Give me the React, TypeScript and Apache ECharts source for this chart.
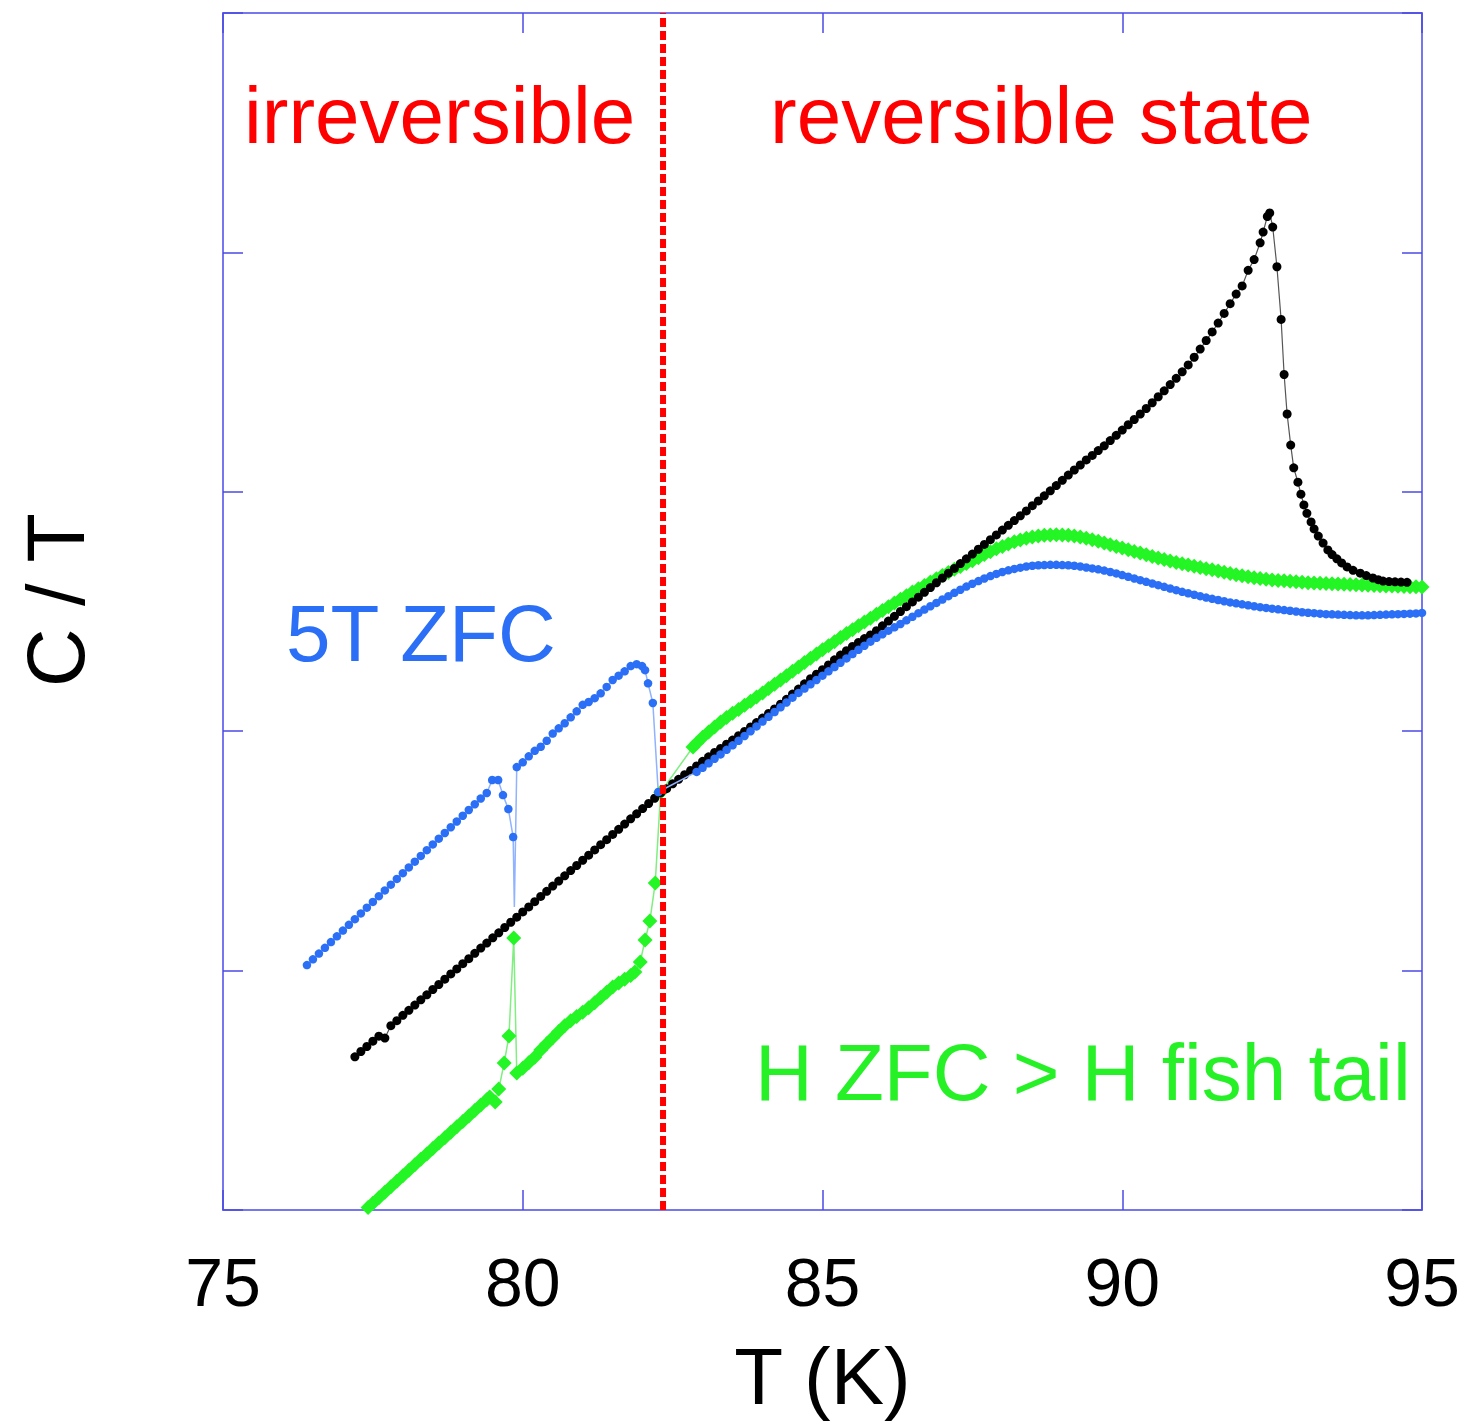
import React, { useEffect, useRef } from "react";
import * as echarts from "echarts";

// ---- data (T in K, C/T in arbitrary units) ----
const xTicks = [75, 80, 85, 90, 95];
const yRange = [0, 5];
const boundaryT = 82.34;

const zeroField: [number, number][] = [
  [77.2, 0.64], [77.3, 0.662], [77.4, 0.683], [77.5, 0.705], [77.6, 0.726], [77.7, 0.718],
  [77.8, 0.77], [77.9, 0.791], [78.0, 0.813], [78.1, 0.834], [78.2, 0.856], [78.3, 0.878],
  [78.4, 0.899], [78.5, 0.921], [78.6, 0.942], [78.7, 0.964], [78.8, 0.986], [78.9, 1.007],
  [79.0, 1.029], [79.1, 1.05], [79.2, 1.072], [79.3, 1.094], [79.4, 1.115], [79.5, 1.137],
  [79.6, 1.158], [79.7, 1.18], [79.8, 1.202], [79.9, 1.223], [80.0, 1.245], [80.1, 1.266],
  [80.2, 1.288], [80.3, 1.31], [80.4, 1.331], [80.5, 1.353], [80.6, 1.374], [80.7, 1.396],
  [80.8, 1.418], [80.9, 1.439], [81.0, 1.461], [81.1, 1.482], [81.2, 1.504], [81.3, 1.526],
  [81.4, 1.547], [81.5, 1.569], [81.6, 1.59], [81.7, 1.612], [81.8, 1.634], [81.9, 1.655],
  [82.0, 1.677], [82.1, 1.698], [82.2, 1.72], [82.3, 1.742], [82.4, 1.76], [82.5, 1.78],
  [82.6, 1.799], [82.7, 1.818], [82.8, 1.836], [82.9, 1.855], [83.0, 1.874], [83.1, 1.893],
  [83.2, 1.911], [83.3, 1.928], [83.4, 1.946], [83.5, 1.963], [83.6, 1.981], [83.7, 1.999],
  [83.8, 2.018], [83.9, 2.036], [84.0, 2.055], [84.1, 2.074], [84.2, 2.093], [84.3, 2.113],
  [84.4, 2.133], [84.5, 2.155], [84.6, 2.176], [84.7, 2.198], [84.8, 2.219], [84.9, 2.238],
  [85.0, 2.257], [85.1, 2.277], [85.2, 2.298], [85.3, 2.318], [85.4, 2.336], [85.5, 2.354],
  [85.6, 2.371], [85.7, 2.387], [85.8, 2.402], [85.9, 2.42], [86.0, 2.44], [86.1, 2.46],
  [86.2, 2.48], [86.3, 2.5], [86.4, 2.52], [86.5, 2.54], [86.6, 2.56], [86.7, 2.58],
  [86.8, 2.6], [86.9, 2.62], [87.0, 2.64], [87.1, 2.66], [87.2, 2.68], [87.3, 2.7],
  [87.4, 2.72], [87.5, 2.74], [87.6, 2.76], [87.7, 2.78], [87.8, 2.8], [87.9, 2.82],
  [88.0, 2.84], [88.1, 2.86], [88.2, 2.88], [88.3, 2.9], [88.4, 2.92], [88.5, 2.942],
  [88.6, 2.962], [88.7, 2.983], [88.8, 3.004], [88.9, 3.026], [89.0, 3.048], [89.1, 3.07],
  [89.2, 3.091], [89.3, 3.112], [89.4, 3.133], [89.5, 3.152], [89.6, 3.172], [89.7, 3.192],
  [89.8, 3.214], [89.9, 3.236], [90.0, 3.258], [90.1, 3.28], [90.2, 3.302], [90.3, 3.325],
  [90.4, 3.348], [90.5, 3.372], [90.6, 3.397], [90.7, 3.422], [90.8, 3.448], [90.9, 3.474],
  [91.0, 3.501], [91.1, 3.53], [91.2, 3.562], [91.3, 3.596], [91.4, 3.632], [91.5, 3.668],
  [91.6, 3.705], [91.7, 3.745], [91.8, 3.786], [91.9, 3.826], [92.0, 3.86], [92.1, 3.925],
  [92.2, 3.97], [92.3, 4.04], [92.35, 4.085], [92.42, 4.15], [92.46, 4.165], [92.51, 4.106],
  [92.58, 3.94], [92.65, 3.72], [92.7, 3.49], [92.75, 3.325], [92.81, 3.195], [92.86, 3.1],
  [92.93, 3.04], [92.98, 2.99], [93.03, 2.945], [93.08, 2.91], [93.15, 2.874], [93.2, 2.845],
  [93.27, 2.815], [93.35, 2.786], [93.43, 2.757], [93.5, 2.738], [93.58, 2.72], [93.66, 2.703],
  [93.75, 2.686], [93.85, 2.672], [93.97, 2.66], [94.07, 2.65], [94.18, 2.64], [94.27, 2.633],
  [94.35, 2.627], [94.45, 2.625], [94.55, 2.624], [94.65, 2.623], [94.75, 2.622],
];

const zfc5T: [number, number][] = [
  [76.4, 1.023], [76.5, 1.047], [76.6, 1.071], [76.7, 1.095], [76.8, 1.119], [76.9, 1.143],
  [77.0, 1.167], [77.1, 1.191], [77.2, 1.215], [77.3, 1.239], [77.4, 1.263], [77.5, 1.287],
  [77.6, 1.311], [77.7, 1.335], [77.8, 1.359], [77.9, 1.383], [78.0, 1.407], [78.1, 1.431],
  [78.2, 1.455], [78.3, 1.479], [78.4, 1.503], [78.5, 1.527], [78.6, 1.551], [78.7, 1.575],
  [78.8, 1.599], [78.9, 1.623], [79.0, 1.647], [79.1, 1.671], [79.2, 1.695], [79.3, 1.719],
  [79.4, 1.742], [79.49, 1.796], [79.59, 1.796], [79.67, 1.733], [79.76, 1.675], [79.84, 1.558],
  [79.86, 1.266], [79.9, 1.85], [80.0, 1.87], [80.1, 1.895], [80.2, 1.918], [80.3, 1.935],
  [80.4, 1.96], [80.5, 1.99], [80.6, 2.012], [80.7, 2.033], [80.8, 2.058], [80.9, 2.083],
  [81.0, 2.11], [81.1, 2.122], [81.2, 2.138], [81.3, 2.158], [81.4, 2.185], [81.5, 2.214],
  [81.6, 2.232], [81.7, 2.25], [81.8, 2.272], [81.9, 2.28], [81.99, 2.272], [82.04, 2.255],
  [82.09, 2.2], [82.17, 2.118], [82.26, 1.746], [82.9, 1.83], [83.0, 1.847], [83.1, 1.866],
  [83.2, 1.885], [83.3, 1.903], [83.4, 1.922], [83.5, 1.941], [83.6, 1.96], [83.7, 1.98],
  [83.8, 2.0], [83.9, 2.02], [84.0, 2.04], [84.1, 2.06], [84.2, 2.08], [84.3, 2.1],
  [84.4, 2.12], [84.5, 2.14], [84.6, 2.16], [84.7, 2.178], [84.8, 2.196], [84.9, 2.214],
  [85.0, 2.232], [85.1, 2.25], [85.2, 2.268], [85.3, 2.286], [85.4, 2.304], [85.5, 2.322],
  [85.6, 2.34], [85.7, 2.357], [85.8, 2.374], [85.9, 2.39], [86.0, 2.405], [86.1, 2.42],
  [86.2, 2.434], [86.3, 2.448], [86.4, 2.463], [86.5, 2.478], [86.6, 2.493], [86.7, 2.508],
  [86.8, 2.522], [86.9, 2.536], [87.0, 2.55], [87.1, 2.564], [87.2, 2.578], [87.3, 2.591],
  [87.4, 2.604], [87.5, 2.616], [87.6, 2.627], [87.7, 2.638], [87.8, 2.648], [87.9, 2.657],
  [88.0, 2.665], [88.1, 2.672], [88.2, 2.678], [88.3, 2.683], [88.4, 2.688], [88.5, 2.691],
  [88.6, 2.693], [88.7, 2.694], [88.8, 2.695], [88.9, 2.695], [89.0, 2.694], [89.1, 2.693],
  [89.2, 2.691], [89.3, 2.688], [89.4, 2.684], [89.5, 2.68], [89.6, 2.676], [89.7, 2.671],
  [89.8, 2.665], [89.9, 2.659], [90.0, 2.652], [90.1, 2.645], [90.2, 2.638], [90.3, 2.631],
  [90.4, 2.624], [90.5, 2.617], [90.6, 2.61], [90.7, 2.603], [90.8, 2.596], [90.9, 2.589],
  [91.0, 2.582], [91.1, 2.576], [91.2, 2.57], [91.3, 2.564], [91.4, 2.558], [91.5, 2.553],
  [91.6, 2.548], [91.7, 2.543], [91.8, 2.538], [91.9, 2.534], [92.0, 2.53], [92.1, 2.526],
  [92.2, 2.522], [92.3, 2.518], [92.4, 2.515], [92.5, 2.512], [92.6, 2.509], [92.7, 2.506],
  [92.8, 2.503], [92.9, 2.5], [93.0, 2.497], [93.1, 2.495], [93.2, 2.493], [93.3, 2.491],
  [93.4, 2.489], [93.5, 2.488], [93.6, 2.487], [93.7, 2.486], [93.8, 2.485], [93.9, 2.484],
  [94.0, 2.484], [94.1, 2.484], [94.2, 2.485], [94.3, 2.486], [94.4, 2.487], [94.5, 2.488],
  [94.6, 2.489], [94.7, 2.49], [94.8, 2.491], [94.9, 2.492], [95.0, 2.494],
];
// the 5T ZFC point whose marker is hidden behind the black curve
const zfc5THiddenT = 79.86;

const fishTail: [number, number][] = [
  [77.42, 0.01], [77.5, 0.028], [77.6, 0.051], [77.7, 0.074], [77.8, 0.097], [77.9, 0.12],
  [78.0, 0.143], [78.1, 0.166], [78.2, 0.189], [78.3, 0.212], [78.4, 0.234], [78.5, 0.257],
  [78.6, 0.28], [78.7, 0.302], [78.8, 0.325], [78.9, 0.348], [79.0, 0.37], [79.1, 0.393],
  [79.2, 0.416], [79.3, 0.439], [79.4, 0.461], [79.45, 0.472], [79.54, 0.451], [79.6, 0.505],
  [79.69, 0.614], [79.77, 0.727], [79.85, 1.136], [79.9, 0.572], [80.0, 0.592], [80.1, 0.615],
  [80.2, 0.638], [80.3, 0.668], [80.4, 0.694], [80.5, 0.72], [80.6, 0.746], [80.7, 0.77],
  [80.8, 0.79], [80.9, 0.808], [81.0, 0.826], [81.1, 0.845], [81.2, 0.866], [81.3, 0.888],
  [81.4, 0.91], [81.5, 0.931], [81.6, 0.948], [81.7, 0.964], [81.8, 0.98], [81.87, 0.994],
  [81.96, 1.036], [82.04, 1.128], [82.12, 1.207], [82.21, 1.366], [82.3, 1.745], [82.84, 1.934],
  [82.9, 1.95], [83.0, 1.975], [83.1, 1.997], [83.2, 2.018], [83.3, 2.038], [83.4, 2.057],
  [83.5, 2.075], [83.6, 2.091], [83.7, 2.108], [83.8, 2.125], [83.9, 2.143], [84.0, 2.16],
  [84.1, 2.178], [84.2, 2.196], [84.3, 2.214], [84.4, 2.232], [84.5, 2.25], [84.6, 2.268],
  [84.7, 2.287], [84.8, 2.305], [84.9, 2.322], [85.0, 2.34], [85.1, 2.357], [85.2, 2.374],
  [85.3, 2.391], [85.4, 2.408], [85.5, 2.424], [85.6, 2.44], [85.7, 2.456], [85.8, 2.472],
  [85.9, 2.488], [86.0, 2.504], [86.1, 2.52], [86.2, 2.536], [86.3, 2.551], [86.4, 2.566],
  [86.5, 2.581], [86.6, 2.595], [86.7, 2.609], [86.8, 2.623], [86.9, 2.637], [87.0, 2.65],
  [87.1, 2.663], [87.2, 2.676], [87.3, 2.688], [87.4, 2.7], [87.5, 2.712], [87.6, 2.725],
  [87.7, 2.738], [87.8, 2.75], [87.9, 2.762], [88.0, 2.772], [88.1, 2.782], [88.2, 2.791],
  [88.3, 2.799], [88.4, 2.806], [88.5, 2.811], [88.6, 2.815], [88.7, 2.818], [88.8, 2.82],
  [88.9, 2.821], [89.0, 2.82], [89.1, 2.818], [89.2, 2.815], [89.3, 2.811], [89.4, 2.806],
  [89.5, 2.8], [89.6, 2.793], [89.7, 2.786], [89.8, 2.779], [89.9, 2.772], [90.0, 2.765],
  [90.1, 2.758], [90.2, 2.751], [90.3, 2.744], [90.4, 2.737], [90.5, 2.73], [90.6, 2.723],
  [90.7, 2.717], [90.8, 2.711], [90.9, 2.705], [91.0, 2.699], [91.1, 2.694], [91.2, 2.689],
  [91.3, 2.684], [91.4, 2.679], [91.5, 2.674], [91.6, 2.669], [91.7, 2.664], [91.8, 2.659],
  [91.9, 2.654], [92.0, 2.649], [92.1, 2.645], [92.2, 2.641], [92.3, 2.638], [92.4, 2.635],
  [92.5, 2.632], [92.6, 2.63], [92.7, 2.628], [92.8, 2.626], [92.9, 2.624], [93.0, 2.622],
  [93.1, 2.62], [93.2, 2.619], [93.3, 2.618], [93.4, 2.617], [93.5, 2.616], [93.6, 2.615],
  [93.7, 2.614], [93.8, 2.613], [93.9, 2.612], [94.0, 2.611], [94.1, 2.61], [94.2, 2.609],
  [94.3, 2.608], [94.4, 2.607], [94.5, 2.606], [94.6, 2.605], [94.7, 2.604], [94.8, 2.603],
  [94.9, 2.603], [95.0, 2.602],
];

const FONT = "'Liberation Sans', Arial, Helvetica, sans-serif";
const AXIS_COLOR = "#7676ee";
const TICK_COLOR = "#4a4ae4";

export default function App() {
  const ref = useRef<HTMLDivElement>(null);

  useEffect(() => {
    if (!ref.current) return;
    const chart = echarts.init(ref.current, undefined, { renderer: "svg" });

    const axisCommon = {
      axisLine: { show: true, onZero: false, lineStyle: { color: AXIS_COLOR, width: 2 } },
      axisTick: { show: true, inside: true, length: 20, lineStyle: { color: TICK_COLOR, width: 1.5 } },
      splitLine: { show: false },
    };

    const blueData = zfc5T.map((p) =>
      p[0] === zfc5THiddenT ? { value: p, symbol: "none" } : { value: p }
    );

    chart.setOption({
      animation: false,
      backgroundColor: "#ffffff",
      grid: { left: 223, right: 45, top: 13, bottom: 212 },
      xAxis: [
        {
          type: "value",
          position: "bottom",
          min: xTicks[0],
          max: xTicks[xTicks.length - 1],
          interval: xTicks[1] - xTicks[0],
          ...axisCommon,
          axisLabel: {
            show: true,
            fontSize: 68,
            color: "#000",
            fontFamily: FONT,
            margin: 38,
            showMinLabel: true,
            showMaxLabel: true,
          },
          name: "T (K)",
          nameLocation: "middle",
          nameGap: 126,
          nameTextStyle: { fontSize: 80, color: "#000", fontFamily: FONT },
        },
        {
          type: "value",
          position: "top",
          min: xTicks[0],
          max: xTicks[xTicks.length - 1],
          interval: xTicks[1] - xTicks[0],
          ...axisCommon,
          axisLabel: { show: false },
        },
      ],
      yAxis: [
        {
          type: "value",
          position: "left",
          min: yRange[0],
          max: yRange[1],
          interval: 1,
          ...axisCommon,
          axisLabel: { show: false },
        },
        {
          type: "value",
          position: "right",
          min: yRange[0],
          max: yRange[1],
          interval: 1,
          ...axisCommon,
          axisLabel: { show: false },
        },
      ],
      graphic: [
        {
          type: "text",
          x: 56,
          y: 600,
          rotation: Math.PI / 2,
          style: {
            text: "C / T",
            fontSize: 81,
            fontFamily: FONT,
            fill: "#000",
            align: "center",
            verticalAlign: "middle",
          },
        },
        {
          type: "text",
          x: 244,
          y: 115,
          z: 100,
          style: {
            text: "irreversible",
            fontSize: 80,
            fontFamily: FONT,
            fill: "#ff0000",
            align: "left",
            verticalAlign: "middle",
          },
        },
        {
          type: "text",
          x: 770,
          y: 115,
          z: 100,
          style: {
            text: "reversible state",
            fontSize: 80,
            fontFamily: FONT,
            fill: "#ff0000",
            align: "left",
            verticalAlign: "middle",
          },
        },
        {
          type: "text",
          x: 286,
          y: 633,
          z: 100,
          style: {
            text: "5T ZFC",
            fontSize: 80,
            fontFamily: FONT,
            fill: "#2a6ff6",
            align: "left",
            verticalAlign: "middle",
          },
        },
        {
          type: "text",
          x: 755,
          y: 1072,
          z: 100,
          style: {
            text: "H ZFC > H fish tail",
            fontSize: 80,
            fontFamily: FONT,
            fill: "#26f026",
            align: "left",
            verticalAlign: "middle",
          },
        },
      ],
      series: [
        {
          name: "H ZFC > H fish tail",
          type: "line",
          data: fishTail,
          symbol: "diamond",
          symbolSize: 15,
          showAllSymbol: true,
          itemStyle: { color: "#24f524" },
          lineStyle: { color: "#80ee80", width: 1.5 },
          z: 2,
        },
        {
          name: "zero field",
          type: "line",
          data: zeroField,
          symbol: "circle",
          symbolSize: 9,
          showAllSymbol: true,
          itemStyle: { color: "#000000" },
          lineStyle: { color: "#555555", width: 1.2 },
          z: 3,
        },
        {
          name: "5T ZFC",
          type: "line",
          data: blueData,
          symbol: "circle",
          symbolSize: 8.5,
          showAllSymbol: true,
          itemStyle: { color: "#2a6ff6" },
          lineStyle: { color: "#90b2ff", width: 1.5 },
          z: 4,
        },
        {
          name: "boundary",
          type: "line",
          data: [
            [boundaryT, yRange[0]],
            [boundaryT, yRange[1]],
          ],
          symbol: "none",
          lineStyle: { color: "#ff0000", width: 6, type: [9, 4] },
          z: 10,
        },
      ],
    });

    return () => chart.dispose();
  }, []);

  return (
    <div
      ref={ref}
      style={{ position: "absolute", left: 0, top: 0, width: 1467, height: 1422 }}
    />
  );
}
